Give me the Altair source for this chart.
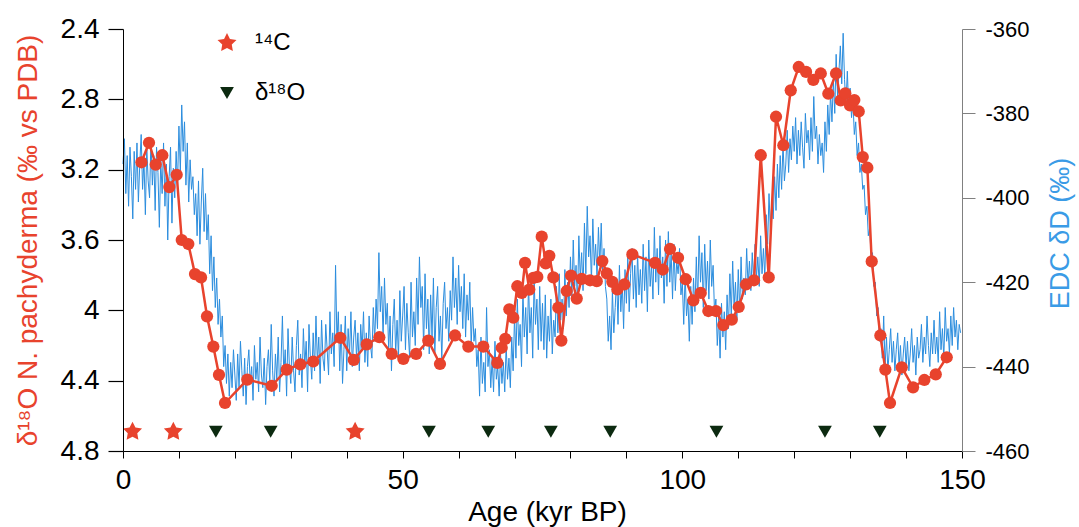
import altair as alt
import pandas as pd

FONT = "Liberation Sans"
RED = "#E8432D"
BLUE = "#2B8DDE"
BLUE_TITLE = "#3A9BE6"
DARK = "#0C2A10"

# ---- N. pachyderma d18O (red) ----
red_age = [3.3, 4.65, 5.85, 7.03, 8.28, 9.6, 10.5, 11.68, 12.87, 13.95, 15.02, 16.15, 17.16, 18.24,
           22.22, 26.59, 29.27, 31.7, 34.02, 38.85, 41.25, 43.57, 45.83, 48.04, 50.12, 52.4, 54.58,
           56.67, 59.36, 61.74, 64.42, 66.92, 67.71, 68.35, 69.07, 69.78, 70.5, 71.29, 71.88, 72.64,
           73.36, 74.07, 74.86, 75.58, 76.22, 76.94, 77.83, 78.37, 79.33, 80.1, 81.12, 82.01, 83.5,
           84.7, 85.7, 86.5, 87.48, 88.38, 89.63, 91.06, 95.12, 96.5, 97.8, 99.23, 100.61, 101.97,
           103.29, 104.65, 106.02, 107.33, 108.83, 110.08, 111.39, 112.82, 114.02, 115.45, 116.75,
           118.06, 119.38, 120.81, 122.12, 123.42, 124.75, 126.1, 127.48, 128.32, 129.14, 129.98,
           130.75, 131.54, 132.26, 133.08, 133.86, 135.4, 136.3, 137.13, 139.23, 141.25, 143.27,
           145.31, 147.27]
red_d18o = [3.158, 3.047, 3.171, 3.118, 3.299, 3.229, 3.6, 3.623, 3.794, 3.813, 4.034, 4.206, 4.367, 4.527,
            4.394, 4.429, 4.337, 4.307, 4.291, 4.156, 4.282, 4.194, 4.153, 4.248, 4.276, 4.248, 4.172,
            4.305, 4.143, 4.206, 4.206, 4.299, 4.213, 4.162, 3.994, 4.042, 3.863, 3.901, 3.73, 3.882,
            3.815, 3.81, 3.581, 3.733, 3.69, 3.813, 3.985, 4.172, 3.89, 3.802, 3.933, 3.821, 3.829,
            3.834, 3.72, 3.79, 3.838, 3.881, 3.853, 3.682, 3.73, 3.768, 3.651, 3.701, 3.823, 3.943,
            3.901, 4.004, 4.004, 4.084, 4.053, 3.981, 3.853, 3.829, 3.118, 3.813, 2.899,
            3.061, 2.749, 2.616, 2.644, 2.69, 2.653, 2.768, 2.653, 2.806, 2.766, 2.835,
            2.804, 2.869, 3.128, 3.189, 3.722, 4.143, 4.337, 4.527, 4.324, 4.438, 4.396,
            4.364, 4.267]

# ---- EDC dD (blue), one value every 0.25 kyr from 0 kyr (10 values = 2.5 kyr per row) ----
edc_dD = [
    -392, -386, -399, -390, -402, -388, -395, -405, -389, -398,
    -387, -401, -392, -385, -398, -391, -404, -388, -396, -400,
    -386, -397, -390, -403, -388, -394, -407, -391, -399, -387,
    -402, -392, -410, -395, -388, -406, -393, -400, -389, -397,
    -383, -394, -378, -389, -382, -397, -387, -401, -391, -398,
    -395, -404, -399, -409, -396, -411, -401, -393, -408, -399,
    -410, -404, -418, -409, -422, -414, -426, -419, -430, -424,
    -433, -428, -440, -435, -444, -437, -447, -439, -445, -436,
    -442, -448, -437, -445, -434, -441, -447, -438, -449, -440,
    -436, -444, -440, -448, -435, -443, -439, -446, -433, -442,
    -445, -438, -449, -440, -436, -444, -430, -441, -447, -437,
    -443, -433, -446, -439, -428, -442, -436, -447, -431, -440,
    -444, -433, -441, -446, -435, -429, -442, -437, -445, -431,
    -440, -434, -446, -430, -438, -443, -432, -441, -428, -439,
    -433, -444, -429, -438, -441, -430, -436, -442, -427, -437,
    -432, -440, -416, -434, -427, -441, -430, -444, -436, -428,
    -441, -431, -437, -427, -440, -433, -429, -438, -432, -441,
    -430, -436, -427, -439, -432, -440, -428, -435, -438, -426,
    -434, -424, -431, -413, -427, -421, -433, -419, -430, -425,
    -436, -428, -441, -430, -424, -437, -429, -438, -422, -434,
    -428, -421, -436, -425, -432, -438, -420, -433, -427, -435,
    -419, -430, -414, -426, -421, -436, -418, -431, -424, -437,
    -423, -433, -419, -437, -426, -421, -434, -428, -438, -425,
    -420, -431, -426, -434, -422, -429, -414, -426, -419, -430,
    -416, -427, -421, -431, -418, -433, -423, -429, -420, -435,
    -426, -434, -431, -440, -436, -447, -433, -444, -439, -446,
    -426, -440, -436, -445, -438, -446, -434, -443, -440, -447,
    -437, -444, -439, -446, -435, -443, -438, -445, -433, -441,
    -428, -438, -424, -435, -430, -440, -422, -433, -426, -437,
    -420, -432, -426, -438, -419, -430, -424, -436, -421, -434,
    -425, -436, -423, -438, -428, -434, -424, -437, -429, -433,
    -421, -432, -418, -429, -424, -431, -417, -428, -420, -426,
    -414, -424, -410, -421, -416, -425, -409, -419, -413, -422,
    -406, -418, -402, -414, -409, -420, -405, -416, -411, -419,
    -407, -416, -406, -418, -412, -421, -424, -434, -428, -436,
    -422, -432, -426, -419, -430, -416, -427, -420, -431, -417,
    -425, -414, -427, -418, -412, -424, -416, -426, -413, -423,
    -417, -425, -411, -422, -414, -427, -410, -421, -416, -424,
    -407, -420, -412, -423, -409, -419, -414, -425, -410, -421,
    -408, -420, -413, -424, -411, -422, -415, -418, -412, -423,
    -420, -430, -418, -428, -424, -434, -421, -430, -419, -427,
    -414, -425, -409, -420, -413, -426, -411, -422, -415, -424,
    -410, -421, -416, -427, -424, -435, -428, -438, -425, -433,
    -427, -436, -423, -431, -418, -428, -415, -426, -420, -429,
    -417, -427, -414, -424, -419, -423, -412, -421, -415, -422,
    -413, -420, -411, -419, -414, -421, -409, -418, -412, -419,
    -404, -411, -399, -408, -401, -405, -395, -403, -392, -400,
    -390, -398, -387, -396, -392, -384, -394, -386, -391, -383,
    -389, -381, -392, -384, -390, -382, -388, -393, -380, -387,
    -384, -391, -381, -389, -376, -386, -383, -392, -385, -390,
    -387, -394, -382, -389, -378, -385, -375, -382, -372, -380,
    -366, -376, -370, -364, -373, -361, -372, -378, -370, -379,
    -374, -381, -377, -385, -382, -390, -387, -394, -392, -398,
    -397, -404, -402, -409, -407, -414, -413, -421, -420, -428,
    -426, -434, -431, -438, -428, -440, -433, -441, -436, -431,
    -439, -434, -441, -436, -432, -440, -435, -442, -437, -433,
    -440, -434, -441, -437, -431, -439, -435, -442, -433, -438,
    -436, -430, -439, -433, -437, -428, -435, -440, -432, -437,
    -429, -437, -433, -439, -427, -436, -431, -438, -426, -434,
    -431, -437, -428, -435, -426, -433, -429, -436, -430, -432,
]
edc_step = 0.25
edc_age = [i * edc_step for i in range(len(edc_dD))]

# ---- dating tie points ----
c14_age = [1.7, 9.0, 41.5]
o18_age = [16.6, 26.4, 54.7, 65.3, 76.5, 87.1, 106.1, 125.5, 135.3]
marker_level = 4.69
c14_label = "¹⁴C"
o18_label = "δ¹⁸O"

x_ticks = [0, 10, 20, 30, 40, 50, 60, 70, 80, 90, 100, 110, 120, 130, 140, 150]
left_ticks = [2.4, 2.8, 3.2, 3.6, 4.0, 4.4, 4.8]
right_ticks = [-460, -440, -420, -400, -380, -360]

red_df = pd.DataFrame({"age": red_age, "d18o": red_d18o})
edc_df = pd.DataFrame({"age": edc_age, "dD": edc_dD})
marker_df = pd.DataFrame({
    "age": c14_age + o18_age,
    "level": [marker_level] * (len(c14_age) + len(o18_age)),
    "kind": [c14_label] * len(c14_age) + [o18_label] * len(o18_age),
})

STAR = ("M0,-1L0.294,-0.405L0.951,-0.309L0.476,0.155L0.588,0.809L0,0.5"
        "L-0.588,0.809L-0.476,0.155L-0.951,-0.309L-0.294,-0.405Z")

x_scale = alt.Scale(domain=[0, 150], nice=False, zero=False)
left_scale = alt.Scale(domain=[2.4, 4.8], reverse=True, nice=False, zero=False)
right_scale = alt.Scale(domain=[-460, -360], nice=False, zero=False)

x_axis = alt.Axis(
    values=x_ticks, labelExpr="datum.value % 50 == 0 ? datum.label : ''",
    tickSize=7, labelPadding=8, labelFontSize=28, labelFont=FONT, labelColor="#000000",
    labelFlush=False, labelOverlap=False, domainColor="#000000", tickColor="#000000", grid=False,
    zindex=1,
    title="Age (kyr BP)", titleFont=FONT, titleFontSize=28, titleFontWeight="normal",
    titleColor="#000000", titleX=424, titleY=69, titleBaseline="alphabetic", titleAlign="center",
)
left_axis = alt.Axis(
    orient="left", values=left_ticks, labelExpr="'' + datum.value",
    tickSize=15, tickWidth=1.2, labelPadding=9, labelFontSize=28,
    labelFont=FONT, labelColor="#000000", labelOverlap=False, domainColor="#000000",
    tickColor="#000000", grid=False, zindex=1,
    title="δ¹⁸O N. pachyderma (‰ vs PDB)", titleColor=RED, titleFont=FONT, titleFontSize=28,
    titleFontWeight="normal", titleAngle=270, titleX=-87, titleY=211,
    titleBaseline="alphabetic", titleAlign="center",
)
right_axis = alt.Axis(
    orient="right", values=right_ticks, labelExpr="'' + datum.value",
    tickSize=13, labelPadding=10, labelFontSize=22,
    labelFont=FONT, labelColor="#000000", labelOverlap=False, domainColor="#808080",
    tickColor="#808080", grid=False, zindex=1,
    title="EDC δD (‰)", titleColor=BLUE_TITLE, titleFont=FONT, titleFontSize=27,
    titleFontWeight="normal", titleAngle=270, titleX=106, titleY=204,
    titleBaseline="alphabetic", titleAlign="center",
)

X = alt.X("age:Q", scale=x_scale, axis=x_axis)

blue = alt.Chart(edc_df).mark_line(color=BLUE, strokeWidth=1.0).encode(
    x=X,
    y=alt.Y("dD:Q", scale=right_scale, axis=right_axis),
)
red_line = alt.Chart(red_df).mark_line(color=RED, strokeWidth=2.5).encode(
    x=X,
    y=alt.Y("d18o:Q", scale=left_scale, axis=left_axis),
)
red_pts = alt.Chart(red_df).mark_circle(color=RED, size=150, opacity=1).encode(
    x=X,
    y=alt.Y("d18o:Q", scale=left_scale, axis=left_axis),
)

kinds = [c14_label, o18_label]
leg = alt.Legend(
    orient="none", legendX=92, legendY=2, title=None, labelFont=FONT, labelFontSize=24,
    labelColor="#000000", rowPadding=26, labelOffset=16, padding=0, symbolOpacity=1,
)
markers = alt.Chart(marker_df).mark_point(filled=True, opacity=1, strokeWidth=0).encode(
    x=X,
    y=alt.Y("level:Q", scale=left_scale, axis=left_axis),
    shape=alt.Shape("kind:N", scale=alt.Scale(domain=kinds, range=[STAR, "triangle-down"]), legend=leg),
    color=alt.Color("kind:N", scale=alt.Scale(domain=kinds, range=[RED, DARK]), legend=leg),
    size=alt.Size("kind:N", scale=alt.Scale(type="ordinal", domain=kinds, range=[400, 190]), legend=leg),
)

chart = (
    alt.layer(blue, alt.layer(red_line, red_pts, markers))
    .resolve_scale(y="independent")
    .properties(
        width=839, height=422,
        padding={"left": 123, "top": 29, "right": 117, "bottom": 76},
        autosize=alt.AutoSizeParams(type="none"),
    )
    .configure_view(stroke=None, strokeWidth=0)
)

chart.save("out.html", embed_options={"renderer": "svg", "actions": False})
